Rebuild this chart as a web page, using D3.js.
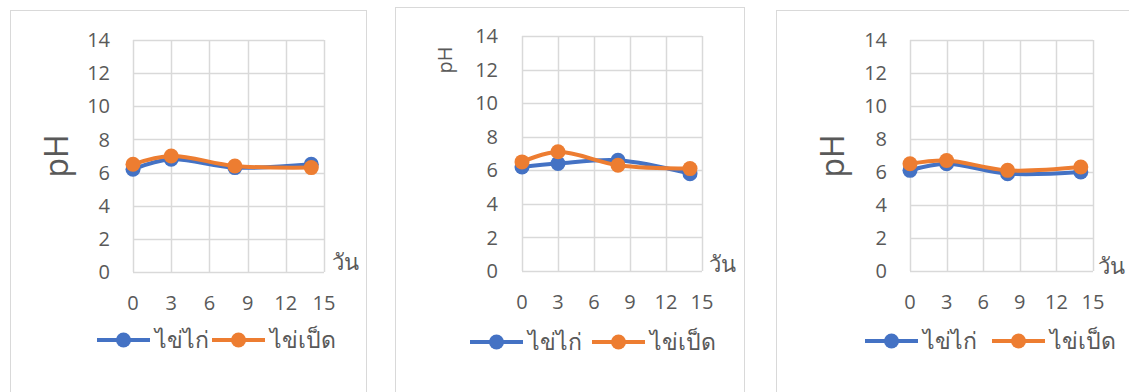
<!DOCTYPE html>
<html>
<head>
<meta charset="utf-8">
<script src="https://cdn.jsdelivr.net/npm/d3@7"></script>
<style>
  body { margin: 0; background: #fff; }
  text { font-family: "Open Sans", "Noto Sans", "DejaVu Sans", sans-serif; fill: #595959; }
</style>
</head>
<body>
<div id="chart"></div>
<script>
// data
const days = [0, 3, 8, 14];
const xTicks = [0, 3, 6, 9, 12, 15];
const yTicks = [0, 2, 4, 6, 8, 10, 12, 14];
const seriesNames = ["ไข่ไก่", "ไข่เป็ด"];
const unitLabel = "วัน";
const yTitle = "pH";

const chicken1 = [6.2, 6.8, 6.3, 6.5];
const duck1 = [6.5, 7.0, 6.4, 6.3];
const chicken2 = [6.2, 6.4, 6.6, 5.8];
const duck2 = [6.5, 7.1, 6.3, 6.1];
const chicken3 = [6.1, 6.5, 5.9, 6.0];
const duck3 = [6.5, 6.7, 6.1, 6.3];

const colors = ["#4472C4", "#ED7D31"];

// layout of each panel (pixels)
const panels = [
  {series: [chicken1, duck1], frame: [10, 10, 356, 400], plot: {l: 133, r: 324, t: 40, b: 272},
   yLab: 110, title: {x: 57, y: 156, size: 32}, leg: [97, 212], legY: 340, unit: [332, 270]},
  {series: [chicken2, duck2], frame: [395, 7, 349, 400], plot: {l: 522, r: 702, t: 36, b: 271},
   yLab: 498, title: {x: 445, y: 60, size: 20}, leg: [470, 592], legY: 342, unit: [709, 272]},
  {series: [chicken3, duck3], frame: [776, 10, 400, 400], plot: {l: 910, r: 1093, t: 40, b: 271},
   yLab: 887, title: {x: 833, y: 156, size: 32}, leg: [865, 992], legY: 341, unit: [1098, 274]}
];

const svg = d3.select("#chart").append("svg")
    .attr("width", 1129)
    .attr("height", 392);

svg.append("rect").attr("width", 1129).attr("height", 392).attr("fill", "#fff");

function drawPanel(p) {
  const g = svg.append("g");

  g.append("rect")
      .attr("x", p.frame[0] + 0.5).attr("y", p.frame[1] + 0.5)
      .attr("width", p.frame[2]).attr("height", p.frame[3])
      .attr("fill", "none").attr("stroke", "#d9d9d9");

  const x = d3.scaleLinear().domain([0, 15]).range([p.plot.l, p.plot.r]);
  const y = d3.scaleLinear().domain([0, 14]).range([p.plot.b, p.plot.t]);

  // grid
  g.selectAll(".vg").data(xTicks).enter().append("line")
      .attr("x1", d => Math.round(x(d)) + 0.5).attr("x2", d => Math.round(x(d)) + 0.5)
      .attr("y1", p.plot.t).attr("y2", p.plot.b)
      .attr("stroke", "#d9d9d9").attr("stroke-width", 1.5);
  g.selectAll(".hg").data(yTicks).enter().append("line")
      .attr("y1", d => Math.round(y(d)) + 0.5).attr("y2", d => Math.round(y(d)) + 0.5)
      .attr("x1", p.plot.l).attr("x2", p.plot.r)
      .attr("stroke", "#d9d9d9").attr("stroke-width", 1.5);

  // tick labels
  g.selectAll(".yl").data(yTicks).enter().append("text")
      .attr("x", p.yLab).attr("y", d => y(d)).attr("dy", "0.36em")
      .attr("text-anchor", "end").style("font-size", "20px")
      .text(d => d);
  g.selectAll(".xl").data(xTicks).enter().append("text")
      .attr("x", d => x(d)).attr("y", p.plot.b + 31).attr("dy", "0.36em")
      .attr("text-anchor", "middle").style("font-size", "20px")
      .text(d => d);

  // axis titles
  g.append("text")
      .attr("transform", `translate(${p.title.x},${p.title.y}) rotate(-90)`)
      .attr("dy", "0.35em").attr("text-anchor", "middle")
      .style("font-size", p.title.size + "px")
      .text(yTitle);
  g.append("text")
      .attr("x", p.unit[0]).attr("y", p.unit[1])
      .style("font-size", "22px")
      .text(unitLabel);

  // lines + markers
  const line = d3.line()
      .x((d, i) => x(days[i]))
      .y(d => y(d))
      .curve(d3.curveCatmullRom);

  p.series.forEach((vals, k) => {
    g.append("path")
        .datum(vals)
        .attr("d", line)
        .attr("fill", "none")
        .attr("stroke", colors[k])
        .attr("stroke-width", 4)
        .attr("stroke-linecap", "round");
    g.selectAll(".pt" + k).data(vals).enter().append("circle")
        .attr("cx", (d, i) => x(days[i]))
        .attr("cy", d => y(d))
        .attr("r", 7.5)
        .attr("fill", colors[k]);
  });

  // legend
  seriesNames.forEach((name, k) => {
    const lx = p.leg[k];
    g.append("line")
        .attr("x1", lx).attr("x2", lx + 53)
        .attr("y1", p.legY).attr("y2", p.legY)
        .attr("stroke", colors[k]).attr("stroke-width", 4);
    g.append("circle")
        .attr("cx", lx + 26.5).attr("cy", p.legY).attr("r", 7.5)
        .attr("fill", colors[k]);
    g.append("text")
        .attr("x", lx + 58).attr("y", p.legY).attr("dy", "0.35em")
        .style("font-size", "23px")
        .text(name);
  });
}

panels.forEach(drawPanel);
</script>
</body>
</html>
